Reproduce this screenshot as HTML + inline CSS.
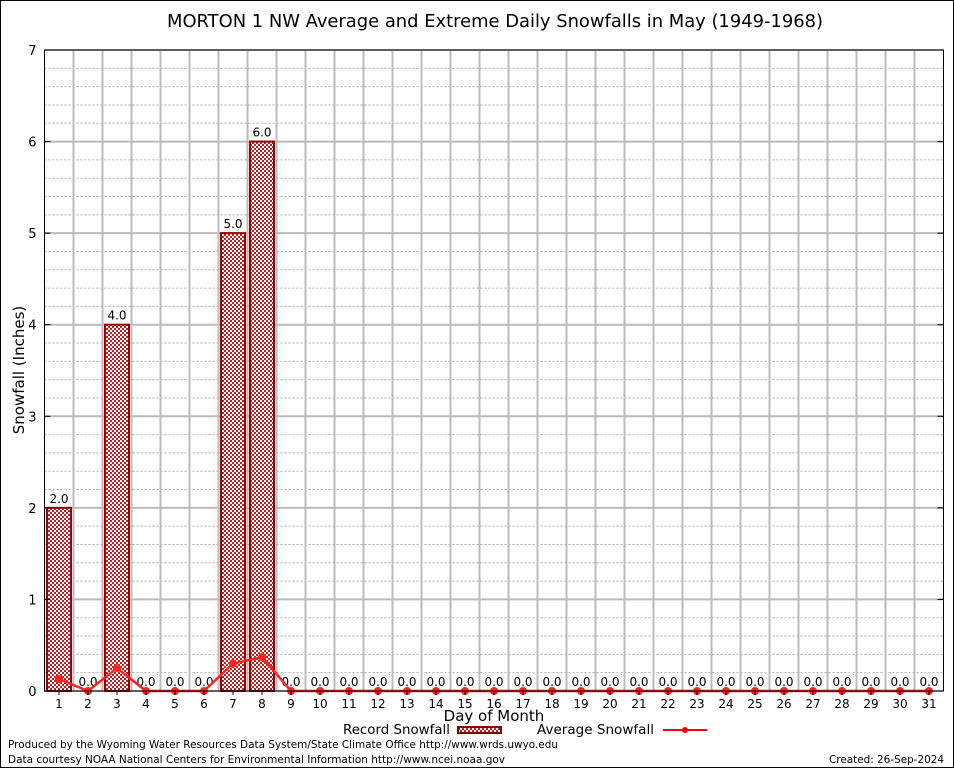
<!DOCTYPE html>
<html><head><meta charset="utf-8"><style>
body{margin:0;background:#fff}
svg text{font-family:"DejaVu Sans","Liberation Sans",sans-serif}
</style></head><body>
<svg id="c" width="954" height="768" xmlns="http://www.w3.org/2000/svg">
<defs>
<pattern id="hatch" width="4" height="4" patternUnits="userSpaceOnUse">
<rect width="4" height="4" fill="#c02020"/>
<rect x="0" y="0" width="2" height="2" fill="#fff"/>
<rect x="2" y="2" width="2" height="2" fill="#fff"/>
</pattern>
</defs>
<rect x="0.5" y="0.5" width="953" height="767" fill="#fff" stroke="#000"/>
<text x="167" y="27" font-size="18" textLength="656" lengthAdjust="spacingAndGlyphs">MORTON 1 NW Average and Extreme Daily Snowfalls in May (1949-1968)</text>
<g id="grid"></g>
<g id="bars"></g>
<g id="line"></g>
<g id="axes"></g>
<text x="24" y="370" font-size="15" text-anchor="middle" transform="rotate(-90 24 370)">Snowfall (Inches)</text>
<text x="494" y="721" font-size="15" text-anchor="middle">Day of Month</text>
<g>
<text x="343" y="734" font-size="13" textLength="107" lengthAdjust="spacingAndGlyphs">Record Snowfall</text>
<rect x="458" y="727" width="43" height="6" fill="url(#hatch)" stroke="#8b0000" stroke-width="2"/>
<text x="537" y="734" font-size="13" textLength="117" lengthAdjust="spacingAndGlyphs">Average Snowfall</text>
<line x1="663" y1="730" x2="707" y2="730" stroke="#f00" stroke-width="2"/>
<circle cx="685" cy="730" r="3" fill="#f00"/>
</g>
<text x="8" y="748" font-size="11" textLength="550" lengthAdjust="spacingAndGlyphs">Produced by the Wyoming Water Resources Data System/State Climate Office http://www.wrds.uwyo.edu</text>
<text x="8" y="763" font-size="11" textLength="497" lengthAdjust="spacingAndGlyphs">Data courtesy NOAA National Centers for Environmental Information http://www.ncei.noaa.gov</text>
<text x="829" y="763" font-size="11" textLength="115" lengthAdjust="spacingAndGlyphs">Created: 26-Sep-2024</text>
</svg>
<script>
const days=[1,2,3,4,5,6,7,8,9,10,11,12,13,14,15,16,17,18,19,20,21,22,23,24,25,26,27,28,29,30,31];
const recordSnow=[2,0,4,0,0,0,5,6,0,0,0,0,0,0,0,0,0,0,0,0,0,0,0,0,0,0,0,0,0,0,0];
const avgSnow=[0.13,0,0.25,0,0,0,0.3,0.37,0,0,0,0,0,0,0,0,0,0,0,0,0,0,0,0,0,0,0,0,0,0,0];
const yTicks=[0,1,2,3,4,5,6,7];
const NS="http://www.w3.org/2000/svg";
const L=44.5,R=943.5,T=50,B=691,yMax=7;
const bw=(R-L)/days.length;
const x=d=>L+bw*(d-0.5);
const y=v=>B-(v/yMax)*(B-T);
function mk(tag,attrs,parent,text){const e=document.createElementNS(NS,tag);for(const k in attrs)e.setAttribute(k,attrs[k]);if(text!==undefined)e.textContent=text;document.getElementById(parent).appendChild(e);return e;}
for(let v=0;v<yMax;v+=0.2){if(Math.abs(v-Math.round(v))<1e-6)continue;
const g=mk('line',{x1:L,x2:R,y1:y(v),y2:y(v),stroke:'#aaa','stroke-dasharray':'2,2','stroke-width':1},'grid');

}
yTicks.forEach(v=>{const g=mk('line',{x1:L,x2:R,y1:y(v),y2:y(v),stroke:'#bbb','stroke-width':2},'grid');


const t=mk('text',{x:L-8,y:y(v)+5,'font-size':13,'text-anchor':'end','font-family':'Liberation Serif,serif'},'axes',String(v));


const tk=mk('line',{x1:L,x2:L+6,y1:y(v),y2:y(v),stroke:'#000'},'axes');


const tk2=mk('line',{x1:R-6,x2:R,y1:y(v),y2:y(v),stroke:'#000'},'axes');

});
days.forEach((d,i)=>{if(i>0){const g=mk('line',{x1:L+bw*i,x2:L+bw*i,y1:T,y2:B,stroke:'#bbb','stroke-width':2},'grid');

}
const t=mk('text',{x:x(d),y:B+17,'font-size':12,'text-anchor':'middle','font-family':'Liberation Serif,serif'},'axes',String(d));


const tk=mk('line',{x1:x(d),x2:x(d),y1:B,y2:B+4,stroke:'#000'},'axes');

});
days.forEach((d,i)=>{const v=recordSnow[i];
if(v>0){const r=mk('rect',{x:x(d)-12,y:y(v),width:24,height:B-y(v),fill:'url(#hatch)',stroke:'#900','stroke-width':2},'bars');

}
const t=mk('text',{x:x(d),y:y(v)-5,'font-size':12,'text-anchor':'middle'},'bars',v.toFixed(1));

});
const p=mk('polyline',{points:days.map((d,i)=>x(d)+','+y(avgSnow[i])).join(' '),fill:'none',stroke:'#f22','stroke-width':2.5},'line');


days.forEach((d,i)=>{const c=mk('circle',{cx:x(d),cy:y(avgSnow[i]),r:4,fill:'#f22'},'line');

});
const fr=mk('rect',{x:L,y:T,width:R-L,height:B-T,fill:'none',stroke:'#000','stroke-width':1},'axes');


</script>
</body></html>
